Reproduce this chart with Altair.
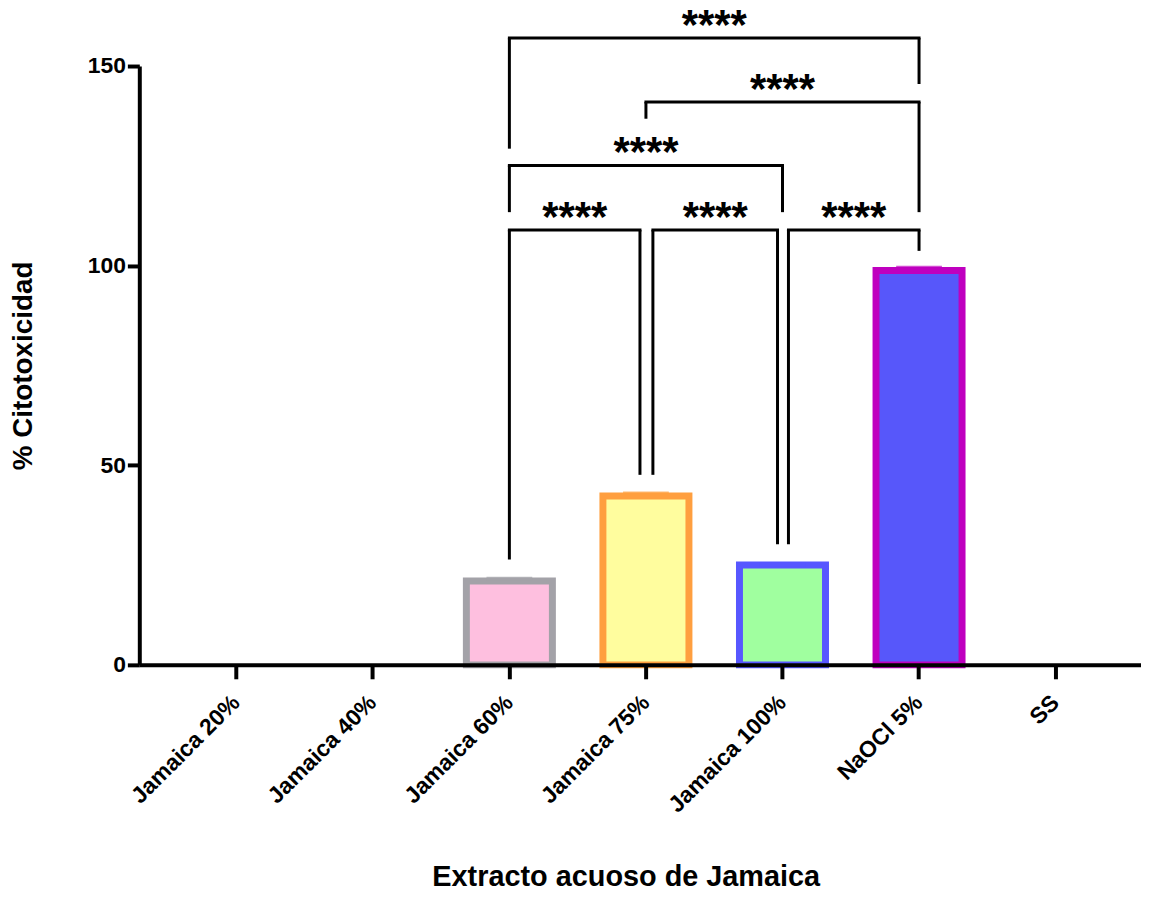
import altair as alt
import pandas as pd

# ---------------- data ----------------
categories = ["Jamaica 20%", "Jamaica 40%", "Jamaica 60%", "Jamaica 75%",
              "Jamaica 100%", "NaOCl 5%", "SS"]
means = [None, None, 21.0, 42.3, 25.0, 98.8, None]
sds = [None, None, 0.6, 0.6, 0.1, 0.7, None]

bar_cats = ["Jamaica 60%", "Jamaica 75%", "Jamaica 100%", "NaOCl 5%"]
fill_colors = ["#FEBFDF", "#FFFD9E", "#A0FF9F", "#5757FA"]
stroke_colors = ["#A3A2A8", "#FF9F3F", "#5757FF", "#BF00BF"]

y_ticks = [0, 50, 100, 150]
x_title = "Extracto acuoso de Jamaica"
y_title = "% Citotoxicidad"

# significance brackets
br_left = ["Jamaica 60%", "Jamaica 75%", "Jamaica 60%", "Jamaica 60%", "Jamaica 75%", "Jamaica 100%"]
br_right = ["NaOCl 5%", "NaOCl 5%", "Jamaica 100%", "Jamaica 75%", "Jamaica 100%", "NaOCl 5%"]
br_y = [157.0, 141.0, 125.1, 108.9, 108.9, 108.9]
br_left_end = [129.3, 136.8, 113.4, 26.4, 47.6, 30.2]
br_right_end = [145.5, 113.4, 113.4, 47.6, 30.2, 103.7]
br_label = ["****", "****", "****", "****", "****", "****"]

# style: pixel nudges of bracket legs
leg_left_off = [0, 0, 0, 0, 7, 6]
leg_right_off = [0, 0, 0, -6, -5, 0]

# ---------------- layout/style ----------------
FONT = "Liberation Sans"
W, H = 1007, 602
P_IN, P_OUT = 0.37, 0.3528
STEP = W / (len(categories) - P_IN + 2 * P_OUT)

rows = [dict(cat=c, v=m, sd=s) for c, m, s in zip(categories, means, sds) if m is not None]
bars_df = pd.DataFrame(rows)
bars_df["top"] = bars_df["v"] + bars_df["sd"]

xscale = alt.Scale(domain=categories, paddingInner=P_IN, paddingOuter=P_OUT, align=0.56)
yscale = alt.Scale(domain=[0, 150], nice=False)

x_axis = alt.Axis(
    title=x_title, labelAngle=-45, labelAlign="right", labelBaseline="middle",
    labelFont=FONT, labelFontSize=23, labelFontWeight="bold", labelColor="black",
    labelPadding=20, tickSize=14, tickWidth=4, tickColor="black",
    domainWidth=4, domainColor="black", grid=False, zindex=1,
    titleFont=FONT, titleFontSize=29, titleFontWeight="bold", titleColor="black",
    titleX=489, titleY=222, titleBaseline="alphabetic", titleAlign="center",
)
y_axis = alt.Axis(
    title=y_title, values=y_ticks, labelFont=FONT, labelFontSize=23,
    labelFontWeight="bold", labelColor="black", labelPadding=2,
    tickSize=12, tickWidth=4, tickColor="black", domainWidth=4,
    domainColor="black", grid=False, zindex=1,
    titleFont=FONT, titleFontSize=28, titleFontWeight="bold", titleColor="black",
    titleX=-116, titleY=301, titleAngle=270, titleAlign="center",
    titleBaseline="middle",
)


def X(field):
    return alt.X(field, scale=xscale, axis=x_axis)


def Y(field):
    return alt.Y(field, scale=yscale, axis=y_axis)


base = alt.Chart(bars_df)

bars = base.mark_bar(strokeWidth=7).encode(
    x=X("cat:N"),
    y=Y("v:Q"),
    fill=alt.Fill("cat:N", scale=alt.Scale(domain=bar_cats, range=fill_colors), legend=None),
    stroke=alt.Stroke("cat:N", scale=alt.Scale(domain=bar_cats, range=stroke_colors), legend=None),
)

caps = base.mark_tick(orient="horizontal", size=46, thickness=4).encode(
    x=X("cat:N"),
    y=Y("top:Q"),
    color=alt.Color("cat:N", scale=alt.Scale(domain=bar_cats, range=stroke_colors), legend=None),
)

layers = [bars, caps]

for i in range(len(br_left)):
    d = pd.DataFrame([dict(a=br_left[i], b=br_right[i], y=br_y[i],
                           ya=br_left_end[i], yb=br_right_end[i], t=br_label[i])])
    c = alt.Chart(d)
    lo, ro = leg_left_off[i], leg_right_off[i]
    horiz = c.mark_rule(color="black", strokeWidth=3, strokeCap="square",
                        xOffset=lo, x2Offset=ro).encode(
        x=X("a:N"), x2="b:N", y=Y("y:Q"),
    )
    legl = c.mark_rule(color="black", strokeWidth=3, xOffset=lo).encode(
        x=X("a:N"), y=Y("ya:Q"), y2="y:Q",
    )
    legr = c.mark_rule(color="black", strokeWidth=3, xOffset=ro).encode(
        x=X("b:N"), y=Y("yb:Q"), y2="y:Q",
    )
    span = categories.index(br_right[i]) - categories.index(br_left[i])
    toff = (span * STEP + lo + ro) / 2
    txt = c.mark_text(font=FONT, fontSize=42, fontWeight="bold", color="black",
                      baseline="middle", align="center", xOffset=toff, dy=-12).encode(
        x=X("a:N"), y=Y("y:Q"), text="t:N",
    )
    layers += [horiz, legl, legr, txt]

chart = alt.layer(*layers).properties(
    width=W, height=H,
    autosize=alt.AutoSizeParams(type="none"),
    padding={"left": 132, "top": 56, "right": 0, "bottom": 225},
    background="white",
).configure_view(stroke=None)

chart.save("out.html", embed_options={"renderer": "svg", "actions": False})
